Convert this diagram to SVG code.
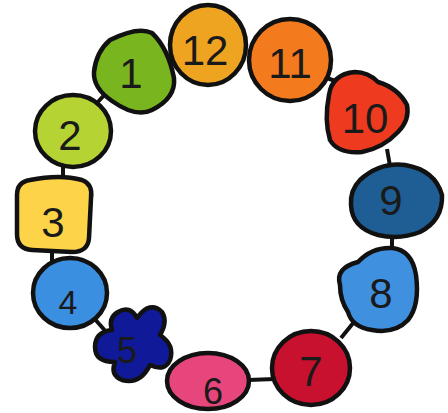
<svg xmlns="http://www.w3.org/2000/svg" width="448" height="413" viewBox="0 0 448 413">
<style>
.n{stroke:#111;stroke-width:4.5;stroke-linejoin:round}
.t{font-family:"Liberation Sans",Arial,sans-serif;font-size:42px;fill:#1a1a1a;text-anchor:middle}
.c{stroke:#111;stroke-width:4;fill:none}
</style>
<rect width="448" height="413" fill="#fff"/>
<g id="connectors">
<line class="c" x1="96" y1="104" x2="108" y2="91"/>
<line class="c" x1="63" y1="165" x2="63" y2="181"/>
<line class="c" x1="52" y1="250" x2="52" y2="261"/>
<line class="c" x1="93" y1="317" x2="108" y2="334"/>
<line class="c" x1="248" y1="380" x2="275" y2="379"/>
<line class="c" x1="341" y1="338" x2="354" y2="322"/>
<line class="c" x1="392" y1="235" x2="392" y2="251"/>
<line class="c" x1="387" y1="149" x2="390" y2="166"/>
<line class="c" x1="324" y1="77" x2="341" y2="83"/>
</g>
<g id="n12"><ellipse class="n" cx="208" cy="45" rx="38" ry="40" fill="#eea321"/><text class="t" x="205" y="65">12</text></g>
<g id="n11"><circle class="n" cx="290" cy="60" r="41" fill="#f47b1d"/><text class="t" x="290" y="78">11</text></g>
<g id="n1"><path class="n" fill="#79b51e" d="M110,40 Q138,26 152,33 Q168,48 174,78 Q176,98 152,110 Q136,118 112,101 Q93,88 94,72 Q96,52 110,40 Z"/><text class="t" x="131" y="88">1</text></g>
<g id="n2"><ellipse class="n" cx="73" cy="131" rx="38" ry="36" fill="#b6d334"/><text class="t" x="70" y="150">2</text></g>
<g id="n3"><path class="n" fill="#fdd348" d="M30,180 Q60,174 82,180 Q93,184 91,198 L89,238 Q88,252 72,252 L32,250 Q17,249 17,234 L17,195 Q17,182 30,180 Z"/><text class="t" x="53" y="237">3</text></g>
<g id="n4"><ellipse class="n" cx="70" cy="293" rx="37" ry="35" fill="#3b8fe0"/><text class="t" x="68" y="314" style="font-size:34px">4</text></g>
<g id="n5"><path class="n" fill="#101a98" d="M118,312 Q130,305 137,318 Q150,300 162,312 Q168,322 160,335 Q175,345 170,360 Q165,372 150,365 Q140,385 122,380 Q110,375 115,362 Q95,362 95,347 Q95,332 112,330 Q108,318 118,312 Z"/><text class="t" x="127" y="363" style="font-size:36px">5</text></g>
<g id="n6"><ellipse class="n" cx="208" cy="381" rx="41" ry="28" fill="#e7467d"/><text class="t" x="213" y="404" style="font-size:36px">6</text></g>
<g id="n7"><ellipse class="n" cx="311" cy="368" rx="39" ry="37" fill="#c8102f"/><text class="t" x="311" y="386">7</text></g>
<g id="n8"><path class="n" fill="#3f91e0" d="M358,262 Q372,247 392,248 Q412,250 416,275 Q420,305 408,320 Q395,334 372,330 Q352,327 348,312 Q340,300 340,285 Q335,268 358,262 Z"/><text class="t" x="381" y="308">8</text></g>
<g id="n9"><path class="n" fill="#1f5e95" d="M360,180 Q380,162 405,165 Q435,170 442,195 Q443,220 420,232 Q400,240 378,235 Q352,228 351,205 Q350,190 360,180 Z"/><text class="t" x="391" y="215">9</text></g>
<g id="n10"><path class="n" fill="#ee3a1f" d="M329,95 Q332,74 355,72 Q368,72 378,82 Q398,88 407,105 Q410,120 398,132 Q383,148 362,152 Q338,154 330,140 Q324,120 329,95 Z"/><text class="t" x="365" y="133">10</text></g>
</svg>
